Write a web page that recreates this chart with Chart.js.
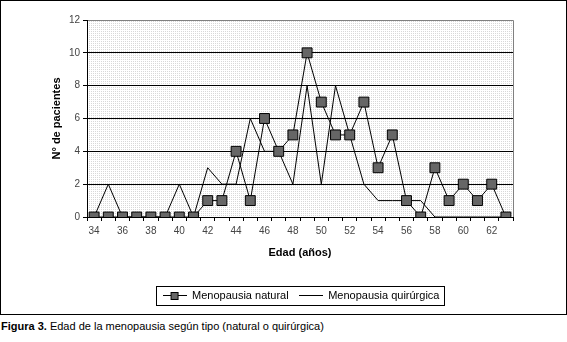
<!DOCTYPE html>
<html>
<head>
<meta charset="utf-8">
<script src="https://cdn.jsdelivr.net/npm/chart.js@4/dist/chart.umd.min.js"></script>
<style>
  body { margin: 0; background: #fff; font-family: "Liberation Sans", Arial, sans-serif; }
  #frame { position: absolute; left: 0; top: 0; width: 567px; height: 315px; border: 1px solid #000; box-sizing: border-box; }
  #caption { position: absolute; left: 1px; top: 320px; font-size: 11px; color: #000; }
</style>
</head>
<body>
<div id="frame"><canvas id="myChart" width="565" height="313"></canvas></div>
<div id="caption"><b>Figura 3.</b> Edad de la menopausia según tipo (natural o quirúrgica)</div>
<script>
const ages = [34, 35, 36, 37, 38, 39, 40, 41, 42, 43, 44, 45, 46, 47, 48,
              49, 50, 51, 52, 53, 54, 55, 56, 57, 58, 59, 60, 61, 62, 63];
const natural = [0, 0, 0, 0, 0, 0, 0, 0, 1, 1, 4, 1, 6, 4, 5,
                 10, 7, 5, 5, 7, 3, 5, 1, 0, 3, 1, 2, 1, 2, 0];
const quirurgica = [0, 2, 0, 0, 0, 0, 2, 0, 3, 2, 2, 6, 4, 4, 2,
                    8, 2, 8, 5, 2, 1, 1, 1, 1, 0, 0, 0, 0, 0, 0];
const yTicks = [0, 2, 4, 6, 8, 10, 12];

const FONT = "'Liberation Sans', Arial, sans-serif";
const LEGEND_PAD = 10;
const LEGEND_SHIFT = 44;

// dotted grey background of the plot
const dots = document.createElement('canvas');
dots.width = 2; dots.height = 2;
const dctx = dots.getContext('2d');
dctx.fillStyle = '#fff'; dctx.fillRect(0, 0, 2, 2);
dctx.fillStyle = '#d8d8d8'; dctx.fillRect(0, 0, 1, 1);

// legend symbols
const symbol = (withSquare) => {
    const c = document.createElement('canvas');
    c.width = 24; c.height = 11;
    const x = c.getContext('2d');
    x.strokeStyle = '#000'; x.lineWidth = 1;
    x.beginPath(); x.moveTo(0, 5.5); x.lineTo(24, 5.5); x.stroke();
    if (withSquare) {
        x.fillStyle = '#666'; x.fillRect(8.5, 2.5, 7, 7);
        x.strokeRect(8.5, 2.5, 7, 7);
    }
    return c;
};

const plotBack = {
    id: 'plotBack',
    afterUpdate(chart) {
        // legend sits a bit right of the plot centre in the original
        const lg = chart.legend;
        lg.left += LEGEND_SHIFT;
        lg.right += LEGEND_SHIFT;
    },
    beforeDraw(chart) {
        const {ctx, chartArea: a} = chart;
        ctx.save();
        ctx.fillStyle = ctx.createPattern(dots, 'repeat');
        ctx.fillRect(a.left, a.top, a.right - a.left, a.bottom - a.top);
        ctx.strokeStyle = '#808080';
        ctx.lineWidth = 1;
        ctx.beginPath();
        ctx.moveTo(a.left, Math.round(a.top) + 0.5);
        ctx.lineTo(Math.round(a.right) + 0.5, Math.round(a.top) + 0.5);
        ctx.lineTo(Math.round(a.right) + 0.5, a.bottom);
        ctx.stroke();
        ctx.restore();
    },
    afterDraw(chart) {
        const lg = chart.legend;
        const w = lg.lineWidths ? lg.lineWidths[0] : 0;
        if (!w) return;
        const x0 = (lg.left + LEGEND_PAD + lg.right - w) / 2;
        const l = x0 - 7;
        const r = x0 + w - LEGEND_PAD + 4;
        const t = lg.top + LEGEND_PAD - 4;
        const b = lg.top + LEGEND_PAD + 11 + 4;
        const ctx = chart.ctx;
        ctx.save();
        ctx.strokeStyle = '#000';
        ctx.lineWidth = 1;
        ctx.strokeRect(Math.round(l) + 0.5, Math.round(t) + 0.5, Math.round(r - l), Math.round(b - t));
        ctx.restore();
    }
};

new Chart(document.getElementById('myChart'), {
    type: 'line',
    data: {
        labels: ages,
        datasets: [{
            label: 'Menopausia natural',
            data: natural,
            borderColor: '#000',
            borderWidth: 1,
            tension: 0,
            pointStyle: 'rect',
            pointRadius: 7,
            pointBackgroundColor: '#666',
            pointBorderColor: '#000',
            pointBorderWidth: 1
        }, {
            label: 'Menopausia quirúrgica',
            data: quirurgica,
            borderColor: '#000',
            borderWidth: 1,
            tension: 0,
            pointRadius: 0
        }]
    },
    options: {
        responsive: false,
        animation: false,
        layout: { padding: { left: 0, right: 53, top: 19, bottom: 3 } },
        plugins: {
            tooltip: { enabled: false },
            legend: {
                position: 'bottom',
                labels: {
                    usePointStyle: true,
                    pointStyleWidth: 24,
                    padding: LEGEND_PAD,
                    color: '#000',
                    font: { family: FONT, size: 11 },
                    generateLabels: (chart) => chart.data.datasets.map((ds, i) => ({
                        text: ds.label,
                        pointStyle: symbol(i === 0),
                        fillStyle: 'transparent',
                        strokeStyle: 'transparent',
                        lineWidth: 0,
                        fontColor: '#000',
                        datasetIndex: i
                    }))
                }
            }
        },
        scales: {
            x: {
                offset: true,
                afterFit: (scale) => { scale.height = 63; },
                grid: { offset: true, drawOnChartArea: false, drawTicks: true, tickLength: 4, color: '#000' },
                border: { color: '#000' },
                ticks: {
                    autoSkip: false,
                    maxRotation: 0,
                    padding: 4,
                    color: '#444',
                    font: { family: FONT, size: 10 },
                    callback: (v, i) => (i % 2 === 0 ? ages[i] : '')
                },
                title: {
                    display: true,
                    text: 'Edad (años)',
                    color: '#000',
                    font: { family: FONT, size: 11, weight: 'bold' },
                    padding: { top: 0, bottom: 20 }
                }
            },
            y: {
                min: 0,
                max: 12,
                afterFit: (scale) => { scale.width = 86; },
                afterBuildTicks: (scale) => { scale.ticks = yTicks.map(v => ({ value: v })); },
                grid: {
                    color: (c) => (c.tick && c.tick.value === 12 ? '#808080' : '#000'),
                    tickLength: 4,
                    tickColor: '#000'
                },
                border: { color: '#000' },
                ticks: {
                    padding: 3,
                    color: '#444',
                    font: { family: FONT, size: 10 }
                },
                title: {
                    display: true,
                    text: 'N° de pacientes',
                    color: '#000',
                    font: { family: FONT, size: 11, weight: 'bold' },
                    padding: { top: 49, bottom: 0 }
                }
            }
        }
    },
    plugins: [plotBack]
});
</script>
</body>
</html>
